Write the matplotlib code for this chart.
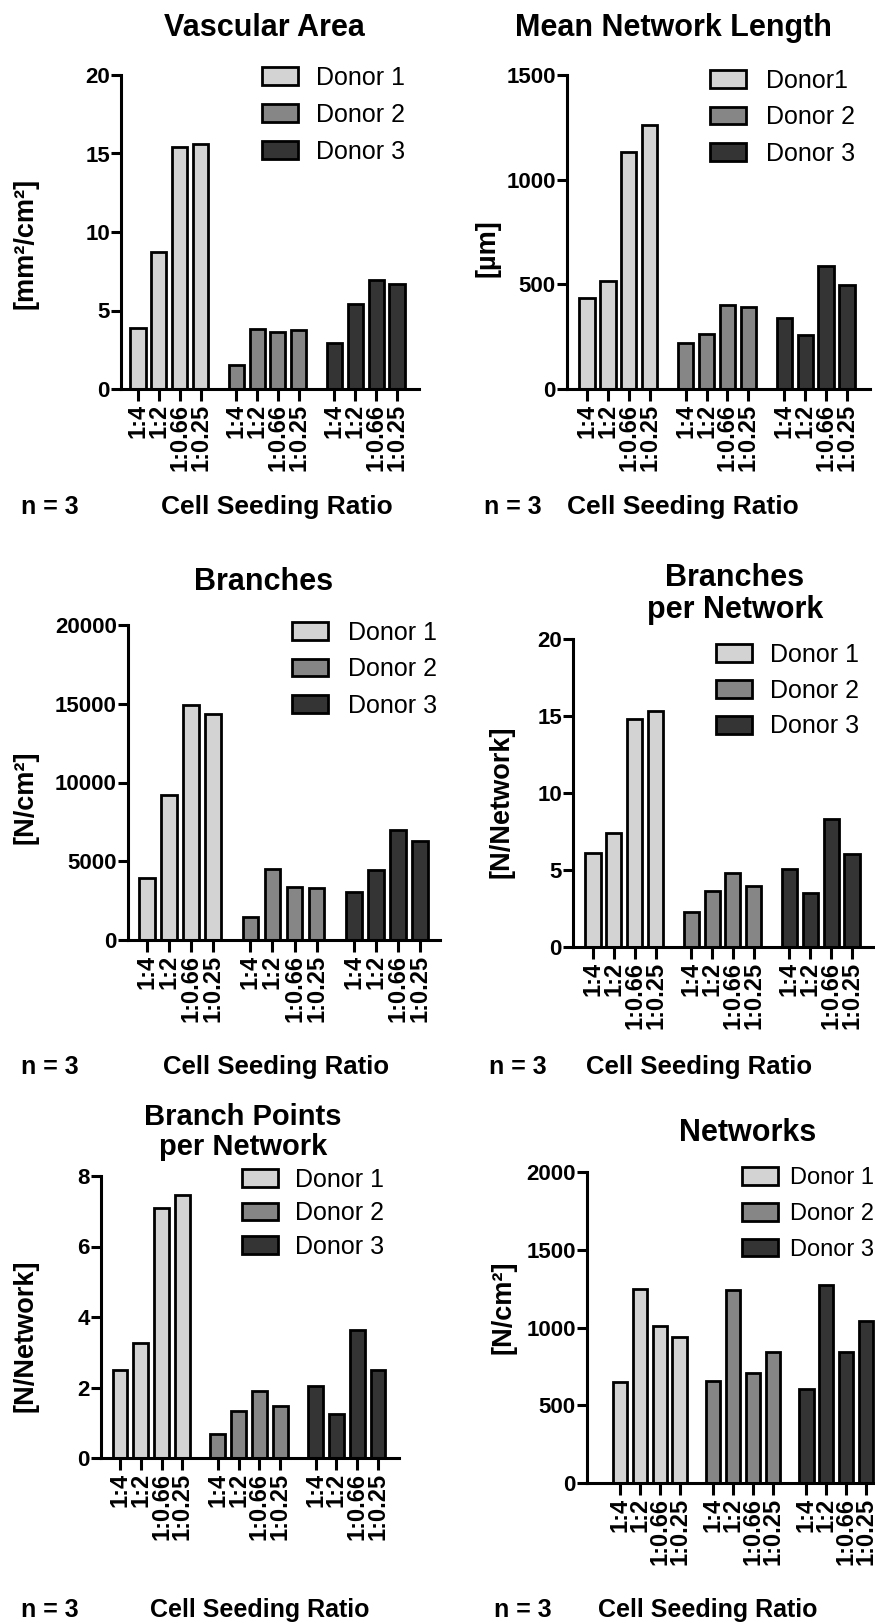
import matplotlib
matplotlib.use("Agg")
import matplotlib.pyplot as plt
from matplotlib.patches import Patch

# ---------------------------------------------------------------- data
ratios = ["1:4", "1:2", "1:0.66", "1:0.25"]
donor_labels = ["Donor 1", "Donor 2", "Donor 3"]
donor_labels_mnl = ["Donor1", "Donor 2", "Donor 3"]

vascular_area = [[3.9, 8.7, 15.4, 15.6],
                 [1.55, 3.85, 3.6, 3.75],
                 [2.95, 5.4, 6.95, 6.7]]
mean_network_length = [[435, 517, 1134, 1259],
                       [221, 262, 399, 394],
                       [340, 258, 589, 498]]
branches = [[3950, 9220, 14900, 14360],
            [1480, 4490, 3380, 3320],
            [3060, 4450, 6990, 6290]]
branches_per_network = [[6.08, 7.39, 14.78, 15.34],
                        [2.28, 3.64, 4.81, 3.98],
                        [5.04, 3.48, 8.32, 6.03]]
branch_points_per_network = [[2.51, 3.26, 7.09, 7.45],
                             [0.68, 1.32, 1.90, 1.47],
                             [2.03, 1.24, 3.63, 2.51]]
networks = [[649, 1245, 1008, 936],
            [658, 1240, 706, 841],
            [602, 1272, 841, 1039]]

titles = ["Vascular Area", "Mean Network Length", "Branches",
          "Branches\nper Network", "Branch Points\nper Network", "Networks"]
ylabels = ["[mm²/cm²]", "[µm]", "[N/cm²]", "[N/Network]", "[N/Network]", "[N/cm²]"]
yticks = [[0, 5, 10, 15, 20],
          [0, 500, 1000, 1500],
          [0, 5000, 10000, 15000, 20000],
          [0, 5, 10, 15, 20],
          [0, 2, 4, 6, 8],
          [0, 500, 1000, 1500, 2000]]
n_text = "n = 3"
xlabel = "Cell Seeding Ratio"

donor_colors = ["#d3d3d3", "#868686", "#343434"]

# ---------------------------------------------------------------- layout (pixels)
W, H, DPI = 875, 1623, 100
GROUP_STEP = 4.7
BAR_W = 0.72

# left, right, y-zero, y-top, first bar centre, last bar centre
axes_px = [
    (121, 419, 389, 75, 138, 397),
    (567, 870, 389, 75, 587, 847),
    (128, 440, 940, 625, 147, 420),
    (573, 880, 947, 639, 593, 852),
    (101, 399, 1458, 1176, 120, 378),
    (587, 890, 1483, 1172, 620, 866),
]
# title centre x, title centre y, font size
title_px = [(264, 28, 22), (673, 28, 22), (264, 582, 22), (735, 594, 22),
            (243, 1132, 21), (748, 1133, 22)]
# ylabel centre
ylabel_px = [(26, 243), (487, 248), (26, 797), (502, 802), (26, 1336), (504, 1307)]
# legend: box left, first row centre, row pitch, box-to-text gap, font size
legend_px = [(262, 75, 36.5, 18, 18), (710, 78, 36.0, 20, 18),
             (292, 630, 36.0, 20, 18), (716, 652, 35.3, 18, 18),
             (242, 1177, 33.0, 17, 18), (742, 1176, 36.0, 12, 17)]
# bottom labels: y, n-text x centre, xlabel x centre
bottom_px = [(507, 50, 277), (507, 513, 683), (1067, 50, 276),
             (1067, 518, 699), (1610, 50, 260), (1610, 523, 708)]
xlabel_size = [19, 19, 18.5, 18.5, 18, 18]

plt.rcParams["font.family"] = ["Liberation Sans", "DejaVu Sans"]

fig = plt.figure(figsize=(W / DPI, H / DPI), dpi=DPI)
fig.patch.set_facecolor("white")


def fx(x):
    return x / W


def fy(y):
    return 1 - y / H


datasets = [vascular_area, mean_network_length, branches,
            branches_per_network, branch_points_per_network, networks]

for k, data in enumerate(datasets):
    left, right, y0, ytop, c0, c1 = axes_px[k]
    ax = fig.add_axes([fx(left), fy(y0), (right - left) / W, (y0 - ytop) / H])
    span = 2 * GROUP_STEP + 3
    unit = (c1 - c0) / span
    ax.set_xlim(-(c0 - left) / unit, span + (right - c1) / unit)
    ax.set_ylim(0, yticks[k][-1])

    xpos = []
    for g, values in enumerate(data):
        xs = [g * GROUP_STEP + i for i in range(len(values))]
        xpos += xs
        ax.bar(xs, values, width=BAR_W, color=donor_colors[g],
               edgecolor="black", linewidth=2.0, zorder=3)

    for side in ("top", "right"):
        ax.spines[side].set_visible(False)
    for side in ("left", "bottom"):
        ax.spines[side].set_linewidth(2.2)
        ax.spines[side].set_zorder(4)
    ax.set_facecolor("none")

    ax.set_yticks(yticks[k])
    ax.set_yticklabels([str(v) for v in yticks[k]], fontsize=16, fontweight="bold")
    ax.tick_params(axis="y", length=7, width=2.2, pad=1)
    ax.set_xticks(xpos)
    ax.set_xticklabels(ratios * 3, rotation=90, fontsize=17, fontweight="bold",
                       ha="center", va="top")
    ax.tick_params(axis="x", length=8.5, width=2.2, pad=2)

    # title
    tx, ty, tfs = title_px[k]
    fig.text(fx(tx), fy(ty), titles[k], ha="center", va="center",
             fontsize=tfs, fontweight="bold", linespacing=1.05)
    # y label
    lx, ly = ylabel_px[k]
    fig.text(fx(lx), fy(ly), ylabels[k], ha="center", va="center",
             rotation=90, fontsize=19.5, fontweight="bold")

    # legend (rows placed from the centre of the first entry)
    bx, rc, pitch, gap, fs = legend_px[k]
    fpx = fs * DPI / 72
    labels = donor_labels_mnl if k == 1 else donor_labels
    handles = [Patch(facecolor=c, edgecolor="black", linewidth=2.0) for c in donor_colors]
    ax.legend(handles, labels, loc="upper left",
              bbox_to_anchor=(fx(bx), fy(rc - 0.37 * fpx)),
              bbox_transform=fig.transFigure, frameon=False,
              borderpad=0, borderaxespad=0,
              handlelength=36 / fpx, handleheight=18 / fpx,
              handletextpad=gap / fpx,
              labelspacing=(pitch - 0.94 * fpx) / fpx,
              prop={"size": fs, "weight": "normal"})

    # bottom labels
    by, nx, cx = bottom_px[k]
    fig.text(fx(nx), fy(by), n_text, ha="center", va="center",
             fontsize=18, fontweight="bold")
    fig.text(fx(cx), fy(by), xlabel, ha="center", va="center",
             fontsize=xlabel_size[k], fontweight="bold")

fig.savefig("out.png", dpi=DPI, facecolor="white")
